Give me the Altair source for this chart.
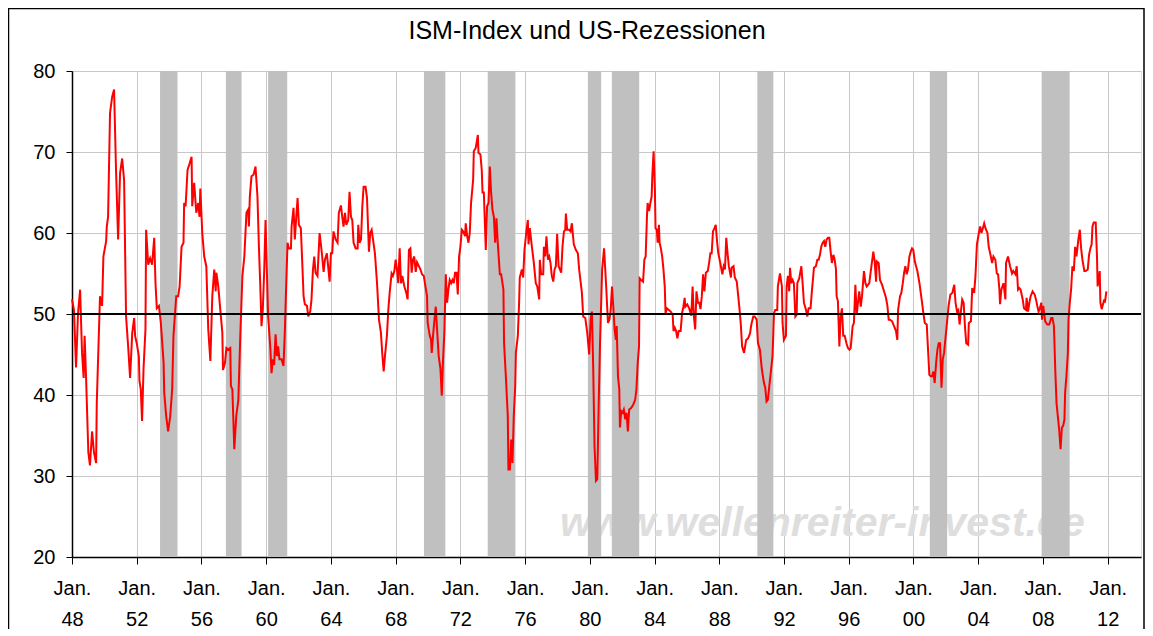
import altair as alt
import pandas as pd

title_text = "ISM-Index und US-Rezessionen"
watermark = "www.wellenreiter-invest.de"

years = [
    1948.00, 1948.12, 1948.25, 1948.37, 1948.50, 1948.62, 1948.72, 1948.78, 1948.87,
    1949.01, 1949.11, 1949.24, 1949.36, 1949.49, 1949.53, 1949.73, 1949.86, 1949.94,
    1950.11, 1950.15, 1950.23, 1950.35, 1950.48, 1950.60, 1950.72, 1950.85, 1950.97,
    1951.10, 1951.22, 1951.34, 1951.47, 1951.59, 1951.72, 1951.84, 1951.90,
    1952.00, 1952.13, 1952.17, 1952.25, 1952.33, 1952.42, 1952.54, 1952.58, 1952.71, 1952.83, 1952.95,
    1953.08, 1953.16, 1953.24, 1953.37, 1953.49, 1953.66, 1953.70, 1953.82, 1953.94,
    1954.07, 1954.19, 1954.27, 1954.44, 1954.56, 1954.65, 1954.77, 1954.89, 1954.93,
    1955.02, 1955.14, 1955.27, 1955.39, 1955.43, 1955.55, 1955.68, 1955.80, 1955.88, 1955.93,
    1956.05, 1956.17, 1956.30, 1956.42, 1956.55, 1956.67, 1956.79, 1956.88, 1956.92,
    1957.04, 1957.16, 1957.29, 1957.33, 1957.45, 1957.54, 1957.66, 1957.78, 1957.82, 1957.91,
    1958.03, 1958.15, 1958.28, 1958.40, 1958.53, 1958.65,
    1958.78, 1958.89, 1958.93, 1958.99, 1959.09, 1959.22, 1959.34, 1959.46, 1959.55, 1959.63,
    1959.71, 1959.79, 1959.88, 1959.96, 1960.04, 1960.12, 1960.25, 1960.33, 1960.41, 1960.49,
    1960.58, 1960.66, 1960.74, 1960.82, 1960.95, 1961.07, 1961.15, 1961.24, 1961.32, 1961.40,
    1961.53, 1961.57, 1961.69, 1961.77, 1961.86, 1961.94, 1962.02, 1962.14, 1962.23, 1962.31,
    1962.39, 1962.52, 1962.60, 1962.72, 1962.80, 1962.89, 1962.97, 1963.05, 1963.17, 1963.30,
    1963.42, 1963.55, 1963.63, 1963.75, 1963.92, 1964.00, 1964.08, 1964.16, 1964.29, 1964.41,
    1964.49, 1964.62, 1964.70, 1964.78, 1964.87, 1964.95, 1965.07, 1965.15, 1965.24, 1965.32,
    1965.40, 1965.53, 1965.65, 1965.69, 1965.77, 1965.86, 1965.94, 1966.02, 1966.14, 1966.23,
    1966.35, 1966.43, 1966.52, 1966.60, 1966.72, 1966.85, 1966.97, 1967.09, 1967.17, 1967.26,
    1967.34, 1967.46, 1967.55, 1967.63, 1967.75, 1967.83, 1967.92, 1968.00, 1968.08, 1968.16,
    1968.25, 1968.33, 1968.41, 1968.54, 1968.66, 1968.74, 1968.82, 1968.91, 1968.99, 1969.07,
    1969.15, 1969.24, 1969.32,
    1969.53, 1969.63, 1969.74, 1969.84, 1969.94, 1969.98, 1970.11, 1970.19, 1970.23, 1970.31,
    1970.40, 1970.48, 1970.56, 1970.66, 1970.77, 1970.85, 1970.93, 1971.01, 1971.10, 1971.18,
    1971.26, 1971.34, 1971.43, 1971.51, 1971.59, 1971.67, 1971.76, 1971.84, 1971.92, 1972.00,
    1972.09, 1972.17, 1972.29, 1972.33, 1972.42, 1972.50, 1972.58, 1972.66, 1972.79, 1972.83,
    1972.95, 1973.08, 1973.12, 1973.24, 1973.32, 1973.37, 1973.45, 1973.57, 1973.65, 1973.74,
    1973.82, 1973.90, 1973.98, 1974.07, 1974.15, 1974.23, 1974.31, 1974.44, 1974.52, 1974.60,
    1974.66, 1974.70, 1974.81, 1974.93, 1974.97, 1975.06, 1975.14, 1975.22, 1975.30, 1975.39,
    1975.43, 1975.55, 1975.63, 1975.67, 1975.80, 1975.88, 1975.96, 1976.09, 1976.17, 1976.21,
    1976.29, 1976.42, 1976.54, 1976.66, 1976.75, 1976.87, 1976.91, 1976.99, 1977.12, 1977.16,
    1977.24, 1977.32, 1977.41, 1977.49, 1977.57, 1977.65, 1977.74, 1977.82, 1977.90, 1977.98,
    1978.07, 1978.15, 1978.23, 1978.31, 1978.40, 1978.48, 1978.52, 1978.60, 1978.73, 1978.81,
    1978.89, 1979.01, 1979.14, 1979.26, 1979.34, 1979.51, 1979.59, 1979.72, 1979.84, 1979.96,
    1980.05, 1980.13, 1980.21, 1980.29, 1980.38, 1980.46,
    1980.55, 1980.63, 1980.76, 1980.88, 1981.00, 1981.12, 1981.21, 1981.29, 1981.37, 1981.45,
    1981.53, 1981.61, 1981.66, 1981.74, 1981.82, 1981.86, 1981.94, 1982.02, 1982.10, 1982.19,
    1982.27, 1982.35, 1982.43, 1982.55, 1982.68, 1982.80, 1982.88, 1982.96, 1983.04, 1983.08,
    1983.17, 1983.29, 1983.37, 1983.45, 1983.53, 1983.57, 1983.66, 1983.74, 1983.82, 1983.86,
    1983.94, 1984.02, 1984.06, 1984.14, 1984.19, 1984.27, 1984.31, 1984.39, 1984.47, 1984.55,
    1984.63, 1984.68, 1984.76, 1984.88, 1985.00, 1985.12, 1985.17, 1985.25, 1985.33, 1985.41,
    1985.49, 1985.61, 1985.70, 1985.78, 1985.86, 1985.90, 1986.02, 1986.14, 1986.27, 1986.35,
    1986.43, 1986.51, 1986.59, 1986.68, 1986.76, 1986.84, 1986.92, 1987.00, 1987.08, 1987.17,
    1987.29, 1987.37, 1987.45, 1987.53, 1987.61, 1987.70, 1987.78, 1987.86, 1987.94, 1988.06,
    1988.19, 1988.27, 1988.35, 1988.43, 1988.51, 1988.59, 1988.72, 1988.76, 1988.88, 1988.96,
    1989.08, 1989.17, 1989.25, 1989.33, 1989.41, 1989.53, 1989.66, 1989.78, 1989.90, 1989.98,
    1990.10, 1990.19, 1990.31, 1990.39, 1990.51, 1990.63, 1990.76, 1990.84, 1990.92, 1991.00,
    1991.29, 1991.38, 1991.46, 1991.58, 1991.62, 1991.75, 1991.87, 1991.91, 1991.99, 1992.12,
    1992.16, 1992.24, 1992.32, 1992.37, 1992.45, 1992.53, 1992.61, 1992.70, 1992.78, 1992.82,
    1992.94, 1993.07, 1993.15, 1993.23, 1993.36, 1993.44, 1993.52, 1993.64, 1993.73, 1993.85,
    1993.97, 1994.06, 1994.14, 1994.22, 1994.30, 1994.39, 1994.47, 1994.55, 1994.63, 1994.72,
    1994.80, 1994.88, 1994.96, 1995.05, 1995.13, 1995.21, 1995.25, 1995.33, 1995.42, 1995.50,
    1995.58, 1995.66, 1995.75, 1995.87, 1995.95, 1996.04, 1996.12, 1996.24, 1996.32, 1996.41,
    1996.49, 1996.57, 1996.65, 1996.74, 1996.82, 1996.94, 1997.03, 1997.11, 1997.19, 1997.27,
    1997.36, 1997.44, 1997.52, 1997.60, 1997.69, 1997.73, 1997.85, 1997.93, 1998.06, 1998.18,
    1998.30, 1998.39, 1998.47, 1998.55, 1998.68, 1998.80, 1998.92, 1999.00, 1999.05, 1999.17,
    1999.25, 1999.34, 1999.42, 1999.50, 1999.58, 1999.66, 1999.75, 1999.83, 1999.91, 1999.99,
    2000.08, 2000.16, 2000.24, 2000.37, 2000.45, 2000.53, 2000.61, 2000.70, 2000.82, 2000.90,
    2000.98, 2001.07, 2001.15, 2001.23, 2001.31, 2001.40, 2001.48, 2001.56, 2001.64, 2001.73,
    2001.81, 2001.89,
    2002.17, 2002.28, 2002.40, 2002.52, 2002.60, 2002.69, 2002.77, 2002.85, 2002.93, 2003.01,
    2003.10, 2003.18, 2003.26, 2003.38, 2003.42, 2003.55, 2003.63, 2003.75, 2003.83, 2003.92,
    2004.04, 2004.12, 2004.20, 2004.29, 2004.37, 2004.45, 2004.57, 2004.65, 2004.78, 2004.86,
    2004.94, 2005.06, 2005.15, 2005.23, 2005.31, 2005.35, 2005.43, 2005.56, 2005.68, 2005.72,
    2005.84, 2005.97, 2006.09, 2006.17, 2006.30, 2006.38, 2006.46, 2006.54, 2006.62, 2006.75,
    2006.83, 2006.95, 2006.99, 2007.08, 2007.16, 2007.24, 2007.36, 2007.49, 2007.57, 2007.65,
    2007.73, 2007.81, 2007.90, 2007.94, 2008.02, 2008.14, 2008.27, 2008.39, 2008.51, 2008.59,
    2008.68, 2008.76, 2008.84, 2008.92, 2009.00, 2009.09, 2009.17, 2009.25, 2009.33, 2009.37,
    2009.45, 2009.54, 2009.58, 2009.66, 2009.74, 2009.82, 2009.91, 2009.99, 2010.07, 2010.19,
    2010.28, 2010.36, 2010.44, 2010.56, 2010.64, 2010.77, 2010.85, 2010.93, 2011.01, 2011.06,
    2011.14, 2011.26, 2011.34, 2011.38, 2011.47, 2011.51, 2011.55, 2011.63, 2011.71, 2011.79,
    2011.83, 2011.92,
]

ism = [
    51.8, 50.5, 43.4, 50.0, 53.0, 45.2, 42.1, 47.3, 42.1,
    32.9, 31.3, 35.5, 32.9, 31.6, 39.0, 52.2, 51.0, 57.1,
    59.0, 60.8, 62.0, 74.8, 76.8, 77.7, 67.8, 59.2, 67.4,
    69.2, 66.5, 49.7, 46.0, 42.1, 47.6, 49.5, 47.3,
    46.4, 44.8, 41.7, 40.7, 36.8, 43.2, 48.1, 60.4, 56.1, 56.9, 56.1,
    59.4, 53.8, 50.7, 51.0, 48.9, 44.0, 40.3, 37.4, 35.5,
    37.4, 40.7, 47.3, 52.2, 52.2, 53.4, 58.3, 58.8, 63.7,
    63.3, 67.8, 68.6, 69.4, 63.3, 66.2, 62.5, 63.7, 62.0, 65.5,
    60.0, 57.1, 55.9, 48.1, 44.2, 52.2, 55.5, 52.8, 55.1,
    53.4, 50.6, 47.7, 43.1, 43.9, 45.8, 45.6, 45.8, 41.1, 40.7,
    33.3, 37.4, 39.4, 47.3, 54.7, 57.1,
    62.5, 62.9, 60.8, 64.5, 67.0, 67.2, 68.2, 64.5, 58.3, 53.8,
    48.5, 50.5, 55.5, 61.6, 55.5, 49.7, 46.0, 42.7, 44.4, 43.7,
    47.5, 44.8, 46.0, 44.4, 44.4, 43.6, 47.7, 53.8, 58.8, 58.1,
    58.1, 60.8, 63.1, 59.2, 62.0, 64.3, 61.0, 60.6, 56.3, 52.2,
    51.2, 51.0, 49.7, 50.3, 51.8, 55.5, 57.1, 55.1, 54.7, 60.0,
    57.9, 55.2, 56.7, 57.5, 54.0, 57.5, 57.5, 60.2, 59.2, 58.8,
    62.5, 63.4, 62.0, 60.8, 62.5, 61.0, 61.6, 65.1, 62.0, 61.6,
    58.8, 58.1, 58.1, 61.0, 58.8, 59.2, 63.3, 65.7, 65.7, 64.3,
    57.7, 60.0, 60.4, 59.2, 57.5, 53.8, 49.3, 47.7, 45.2, 42.9,
    44.8, 47.3, 50.6, 52.6, 55.0, 54.7, 55.3, 56.7, 55.5, 53.8,
    58.1, 53.8, 54.7, 53.4, 52.6, 51.8, 57.9, 58.1, 55.1, 56.7,
    57.1, 55.2, 56.4,
    55.5, 54.9, 54.7, 53.4, 52.2, 48.9, 47.3, 46.8, 45.2, 47.3,
    49.3, 50.9, 48.1, 44.8, 43.2, 39.9, 44.4, 47.7, 54.9, 51.4,
    53.0, 54.2, 53.8, 54.2, 53.8, 55.1, 55.1, 52.4, 57.1, 58.3,
    60.4, 60.2, 59.6, 61.2, 59.6, 58.8, 60.0, 63.7, 66.6, 70.1,
    70.5, 72.1, 69.9, 69.7, 67.8, 65.0, 65.0, 57.9, 63.3, 63.7,
    68.2, 65.0, 62.9, 62.0, 58.8, 61.8, 58.8, 54.9, 54.9, 53.8,
    53.0, 46.4, 42.3, 37.4, 30.8, 30.8, 34.5, 31.6, 37.4, 41.1,
    45.2, 47.3, 51.4, 54.5, 55.5, 54.5, 57.9, 60.4, 61.6, 58.6,
    60.6, 58.3, 56.3, 53.8, 53.4, 51.8, 56.7, 54.9, 54.9, 58.3,
    57.1, 59.6, 56.7, 57.1, 56.3, 54.7, 54.0, 55.5, 55.9, 59.9,
    55.9, 55.5, 55.1, 58.3, 60.2, 60.4, 62.4, 60.4, 60.4, 60.2,
    61.2, 58.6, 57.9, 57.5, 55.5, 52.6, 49.7, 49.5, 47.7, 45.0,
    49.3, 50.3, 43.2, 33.7, 29.4, 29.6,
    39.0, 46.4, 55.5, 58.1, 53.8, 48.9, 49.3, 50.5, 53.4, 50.9,
    48.1, 46.8, 48.5, 42.3, 40.7, 36.0, 38.0, 37.8, 38.2, 37.0,
    37.8, 35.5, 38.2, 38.4, 38.8, 39.4, 40.7, 44.0, 46.0, 54.4,
    54.2, 54.0, 56.7, 57.1, 62.0, 63.7, 62.7, 63.7, 64.5, 67.0,
    70.1, 65.3, 60.6, 60.4, 58.8, 61.0, 58.8, 58.1, 57.1, 55.5,
    53.4, 50.1, 50.7, 50.5, 50.3, 49.9, 47.9, 48.3, 47.9, 47.0,
    47.9, 47.9, 50.1, 50.9, 52.0, 50.9, 51.2, 50.7, 49.8, 53.4,
    49.7, 48.1, 52.8, 51.4, 51.4, 50.6, 52.2, 54.9, 52.8, 55.1,
    55.3, 56.3, 57.5, 57.5, 60.2, 60.6, 61.0, 59.0, 57.5, 56.3,
    54.9, 55.9, 55.5, 59.4, 57.5, 55.9, 54.5, 55.7, 55.9, 54.5,
    54.0, 52.2, 50.6, 48.7, 46.0, 45.2, 46.8, 47.0, 47.6, 48.7,
    49.7, 49.7, 49.3, 46.4, 45.6, 43.2, 41.5, 40.9, 39.2, 39.4,
    44.8, 50.1, 50.5, 50.5, 53.4, 55.0, 53.4, 48.9, 46.8, 47.3,
    53.4, 54.7, 52.8, 55.7, 53.8, 54.2, 53.8, 49.7, 49.9, 53.8,
    54.4, 55.9, 53.8, 51.4, 50.5, 49.7, 50.7, 50.7, 53.0, 55.7,
    55.9, 56.7, 56.7, 57.3, 58.3, 58.8, 59.0, 58.3, 59.2, 59.4,
    59.4, 57.7, 56.3, 57.3, 56.7, 55.5, 52.2, 51.6, 46.0, 49.7,
    50.7, 47.3, 47.3, 46.3, 45.8, 45.6, 45.8, 48.5, 48.9, 53.6,
    49.9, 51.4, 52.8, 50.9, 52.2, 55.3, 53.8, 53.4, 53.6, 53.8,
    55.3, 56.5, 57.7, 56.5, 54.0, 56.5, 56.3, 54.2, 53.6, 52.8,
    52.0, 51.0, 49.3, 49.3, 49.1, 48.5, 47.9, 46.8, 50.5, 52.2,
    52.6, 53.8, 55.1, 55.9, 54.9, 55.5, 57.1, 57.7, 58.1, 57.9,
    56.5, 55.9, 55.3, 53.8, 52.6, 51.4, 50.1, 48.9, 48.7, 45.6,
    42.5, 42.3, 42.3, 42.9, 41.5, 44.0, 45.6, 46.4, 46.4, 40.9,
    44.4, 45.2,
    51.0, 52.4, 52.6, 53.6, 51.4, 50.3, 50.5, 48.7, 50.3, 51.8,
    51.4, 48.5, 46.4, 46.2, 48.9, 49.1, 53.2, 52.6, 54.7, 58.6,
    60.0, 60.8, 60.0, 60.6, 61.2, 60.6, 60.0, 58.3, 57.1, 56.3,
    57.1, 56.7, 55.0, 54.9, 53.0, 51.2, 53.0, 53.8, 51.8, 56.3,
    57.1, 55.9, 55.0, 55.3, 54.9, 55.9, 53.0, 53.2, 53.0, 51.8,
    50.7, 50.5, 52.0, 50.3, 51.4, 52.2, 52.8, 52.4, 51.8, 51.0,
    50.3, 50.7, 51.4, 49.3, 51.0, 49.1, 48.7, 48.7, 49.5, 49.5,
    48.5, 43.2, 39.0, 37.4, 35.8, 33.3, 36.0, 36.2, 37.0, 40.3,
    42.3, 45.2, 49.3, 51.4, 53.0, 55.9, 55.3, 58.3, 57.1, 59.2,
    60.4, 58.1, 56.7, 55.3, 55.3, 55.5, 57.3, 58.1, 58.6, 60.8,
    61.3, 61.3, 57.1, 53.4, 54.7, 55.3, 51.4, 50.6, 51.2, 51.8,
    51.4, 52.8,
]

rec_start = [1953.44, 1957.51, 1960.12, 1969.75, 1973.69, 1979.88, 1981.36, 1990.35, 2001.01, 2007.92]
rec_end = [1954.52, 1958.48, 1961.30, 1971.07, 1975.40, 1980.70, 1983.05, 1991.34, 2002.08, 2009.65]

tick_years = list(range(1948, 2013, 4))
y_ticks = [20, 30, 40, 50, 60, 70, 80]

W, H = 1069, 486
FONT = "Liberation Sans"

df = pd.DataFrame({"t": years, "ism": ism})
rec = pd.DataFrame({"s": rec_start, "e": rec_end})

xscale = alt.Scale(domain=[1948, 2014.06], nice=False, zero=False)
yscale = alt.Scale(domain=[20, 80], nice=False, zero=False)

x_axis = alt.Axis(
    values=tick_years,
    labelExpr="['Jan.', substring(format(datum.value, 'd'), 2)]",
    title=None, grid=True, gridColor="#c8c8c8", gridWidth=1,
    domainColor="black", domainWidth=1.5, tickColor="black", tickSize=7,
    labelFont=FONT, labelFontSize=20, labelColor="black",
    labelPadding=14, labelLineHeight=31, labelFlush=False, labelOverlap=False,
)
y_axis = alt.Axis(
    values=y_ticks, title=None, grid=True, gridColor="#c8c8c8", gridWidth=1,
    domainColor="black", domainWidth=1.5, tickColor="black", tickSize=6,
    labelFont=FONT, labelFontSize=20, labelColor="black", labelPadding=11,
    labelFlush=False,
)

wm = alt.Chart(pd.DataFrame({"txt": [watermark]})).mark_text(
    font=FONT, fontSize=41, fontStyle="italic", fontWeight="bold",
    color="#dedede", align="left", baseline="alphabetic",
).encode(x=alt.value(488), y=alt.value(465), text="txt:N")

bands = alt.Chart(rec).mark_rect(color="#c0c0c0").encode(
    x=alt.X("s:Q", scale=xscale, axis=x_axis),
    x2="e:Q",
    y=alt.value(0),
    y2=alt.value(H),
)

line = alt.Chart(df).mark_line(color="#ff0000", strokeWidth=2).encode(
    x=alt.X("t:Q", scale=xscale, axis=x_axis),
    y=alt.Y("ism:Q", scale=yscale, axis=y_axis),
)

rule50 = alt.Chart(pd.DataFrame({"v": [50]})).mark_rule(color="black", strokeWidth=2).encode(
    y=alt.Y("v:Q", scale=yscale, axis=y_axis)
)

title = alt.Chart(pd.DataFrame({"txt": [title_text]})).mark_text(
    font=FONT, fontSize=25, color="black", align="center", baseline="alphabetic",
).encode(x=alt.value(515), y=alt.value(-32), text="txt:N")

frame = alt.Chart(pd.DataFrame({"k": [0]})).mark_rect(
    fillOpacity=0, stroke="black", strokeWidth=1.5,
).encode(x=alt.value(-63.5), x2=alt.value(1072), y=alt.value(-62.5), y2=alt.value(H + 120))

chart = alt.layer(wm, bands, line, rule50, title, frame).properties(
    width=W, height=H,
    autosize=alt.AutoSizeParams(type="none"),
    padding={"left": 64, "top": 63, "right": 4, "bottom": 72},
).configure_view(stroke="black", strokeWidth=1.5).configure(background="white")

chart.save("out.html", embed_options={"renderer": "svg", "actions": False})
